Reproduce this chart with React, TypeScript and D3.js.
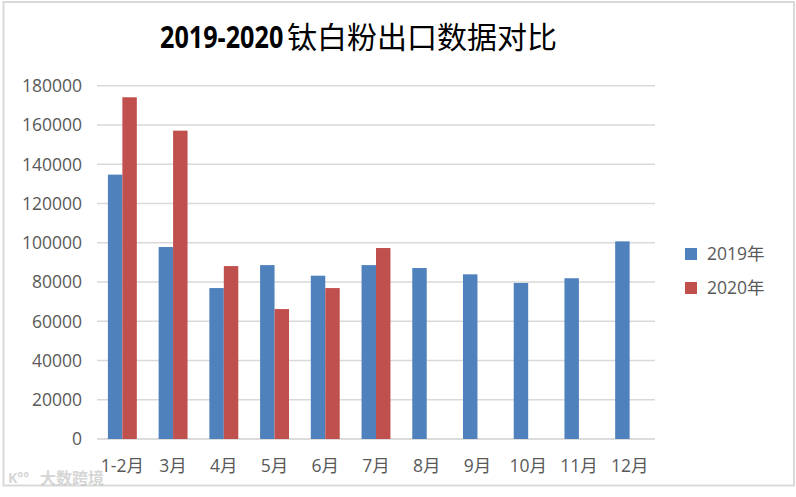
import React from "react";
import * as d3 from "d3";

const categories = ["1-2月", "3月", "4月", "5月", "6月", "7月", "8月", "9月", "10月", "11月", "12月"];
const series2019 = [134700, 97800, 76900, 88600, 83200, 88600, 87100, 83900, 79500, 81900, 100700];
const series2020: (number | null)[] = [174100, 157100, 88100, 66200, 76900, 97300, null, null, null, null, null];
const seriesNames = ["2019年", "2020年"];
const seriesColors = ["#4F81BD", "#C0504D"];
const yTicks = [0, 20000, 40000, 60000, 80000, 100000, 120000, 140000, 160000, 180000];
const titleNum = "2019-2020";
const titleText = "钛白粉出口数据对比";

const W = 796;
const H = 497;
const plot = { left: 97, right: 655, top: 85.7, bottom: 439 };
const font = "'Open Sans', 'Noto Sans', 'Noto Sans CJK SC', sans-serif";
const textColor = "#595959";

export default function App() {
  const x = d3
    .scaleBand<string>()
    .domain(categories)
    .range([plot.left, plot.right])
    .paddingInner(0.43)
    .paddingOuter(0.215);
  const inner = d3
    .scaleBand<string>()
    .domain(seriesNames)
    .range([0, x.bandwidth()]);
  const y = d3.scaleLinear().domain([0, 180000]).range([plot.bottom, plot.top]);

  const data = [series2019, series2020];

  return (
    <div style={{ position: "absolute", left: 0, top: 0 }}>
      <svg width={W} height={H} style={{ display: "block", background: "#fff" }}>
        <rect x={3.5} y={2} width={790.5} height={483.5} fill="#fff" stroke="#d9d9d9" strokeWidth={2} />
        <text
          transform="translate(160,48) scale(0.84,1)"
          fontSize={30}
          fill="#000"
          fontFamily="'Open Sans', sans-serif"
          fontWeight="bold"
        >
          {titleNum}
        </text>
        <text
          x={287}
          y={48}
          fontSize={30}
          fill="#000"
          fontFamily="'Noto Sans CJK SC', sans-serif"
          fontWeight="normal"
        >
          {titleText}
        </text>
        {yTicks.map((t) => (
          <g key={t}>
            <line
              x1={plot.left}
              x2={plot.right}
              y1={y(t)}
              y2={y(t)}
              stroke={t === 0 ? "#d0d0d0" : "#d9d9d9"}
              strokeWidth={1.5}
            />
            <text
              x={82}
              y={y(t)}
              dy="0.36em"
              textAnchor="end"
              fontFamily={font}
              fontSize={17.5}
              fill={textColor}
            >
              {t}
            </text>
          </g>
        ))}
        {data.map((s, si) =>
          s.map((v, i) =>
            v == null ? null : (
              <rect
                key={`${si}-${i}`}
                x={(x(categories[i]) ?? 0) + (inner(seriesNames[si]) ?? 0)}
                y={y(v)}
                width={inner.bandwidth()}
                height={y(0) - y(v)}
                fill={seriesColors[si]}
              />
            )
          )
        )}
        {categories.map((c) => (
          <text
            key={c}
            x={(x(c) ?? 0) + x.bandwidth() / 2}
            y={472}
            textAnchor="middle"
            fontFamily={font}
            fontSize={17.5}
            fill={textColor}
          >
            {c}
          </text>
        ))}
        {seriesNames.map((n, i) => (
          <g key={n} transform={`translate(685, ${248 + i * 34})`}>
            <rect x={0} y={0} width={12} height={12} fill={seriesColors[i]} />
            <text x={22} y={6} dy="0.36em" fontFamily={font} fontSize={17.5} fill={textColor}>
              {n}
            </text>
          </g>
        ))}
        <g opacity={0.6}>
          <text x={8} y={483} fontFamily="'Noto Sans', sans-serif" fontSize={14} fill="#bbb" fontWeight="bold">
            K°°
          </text>
          <text x={40} y={484} fontFamily="'Noto Sans CJK SC', sans-serif" fontSize={16} fill="#bbb" fontWeight="bold">
            大数跨境
          </text>
        </g>
      </svg>
    </div>
  );
}
